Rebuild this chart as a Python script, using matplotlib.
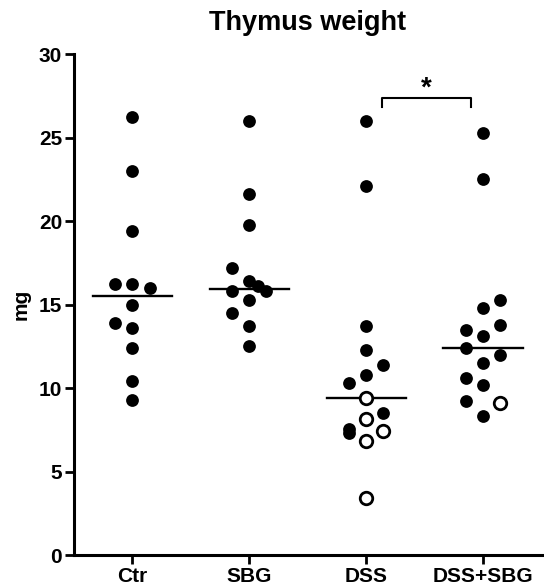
import numpy as np
import matplotlib.pyplot as plt

plt.rcParams['font.family'] = ['Liberation Sans', 'DejaVu Sans']
plt.rcParams['font.weight'] = 'bold'

groups = ["Ctr", "SBG", "DSS", "DSS+SBG"]

# thymus weight (mg), filled = normal, open = second marker type
ctr = [26.2, 23.0, 19.4, 16.2, 16.2, 16.0, 15.0, 13.9, 13.6, 12.4, 10.4, 9.3]
sbg = [26.0, 21.6, 19.75, 17.2, 16.4, 16.1, 15.8, 15.8, 15.3, 14.5, 13.7, 12.5]
dss_filled = [26.0, 22.1, 13.7, 12.3, 11.4, 10.8, 10.3, 8.5, 7.55, 7.3]
dss_open = [9.4, 8.15, 7.4, 6.85, 3.4]
dss_sbg_filled = [25.3, 22.5, 15.3, 14.8, 13.8, 13.5, 13.1, 12.4, 12.0, 11.5,
                  10.6, 10.2, 9.2, 8.3]
dss_sbg_open = [9.1]

# column of each dot inside its group (scatter layout, not data)
ctr_col = [0, 0, 0, -1, 0, 1, 0, -1, 0, 0, 0, 0]
sbg_col = [0, 0, 0, -1, 0, 0.5, 1, -1, 0, -1, 0, 0]
dss_filled_col = [0, 0, 0, 0, 1, 0, -1, 1, -1, -1]
dss_open_col = [0, 0, 1, 0, 0]
dss_sbg_filled_col = [0, 0, 1, 0, 1, -1, 0, -1, 1, 0, -1, 0, -1, 0]
dss_sbg_open_col = [1]

filled = [ctr, sbg, dss_filled, dss_sbg_filled]
filled_col = [ctr_col, sbg_col, dss_filled_col, dss_sbg_filled_col]
opened = [[], [], dss_open, dss_sbg_open]
opened_col = [[], [], dss_open_col, dss_sbg_open_col]

step = 0.146

fig = plt.figure(figsize=(5.44, 5.88), dpi=100)
ax = fig.add_axes([0.136, 0.0561, 0.8598, 0.852])

for i in range(4):
    xs = i + step * np.array(filled_col[i], dtype=float)
    ax.plot(xs, filled[i], 'o', color='black', ms=9.2, mew=0, zorder=3)
    if opened[i]:
        xo = i + step * np.array(opened_col[i], dtype=float)
        ax.plot(xo, opened[i], 'o', mfc='white', mec='black', ms=9, mew=2, zorder=4)
    med = np.median(list(filled[i]) + list(opened[i]))
    ax.plot([i - 0.34, i + 0.34], [med, med], color='black', lw=1.7, zorder=2)

# significance bracket DSS vs DSS+SBG
bx0, bx1, btop, bbot = 2.135, 2.897, 27.38, 26.84
ax.plot([bx0, bx0, bx1, bx1], [bbot, btop, btop, bbot], color='black', lw=1.5,
        clip_on=False)
ax.text((bx0 + bx1) / 2, btop - 0.25, "*", ha='center', va='bottom', fontsize=20,
        fontweight='bold')

ax.set_xlim(-0.5, 3.5)
ax.set_ylim(0, 30)
ax.set_xticks(range(4))
ax.set_xticklabels(groups)
ax.set_yticks([0, 5, 10, 15, 20, 25, 30])
ax.set_ylabel("mg", fontsize=15, fontweight='bold', labelpad=6)
ax.set_title("Thymus weight", fontsize=19.5, fontweight='bold', pad=17)

for s in ['top', 'right']:
    ax.spines[s].set_visible(False)
for s in ['left', 'bottom']:
    ax.spines[s].set_linewidth(2.2)
ax.tick_params(width=2, length=6.5, labelsize=15, pad=2)
for lab in ax.get_xticklabels() + ax.get_yticklabels():
    lab.set_fontweight('bold')

fig.savefig("out.png", dpi=100)
